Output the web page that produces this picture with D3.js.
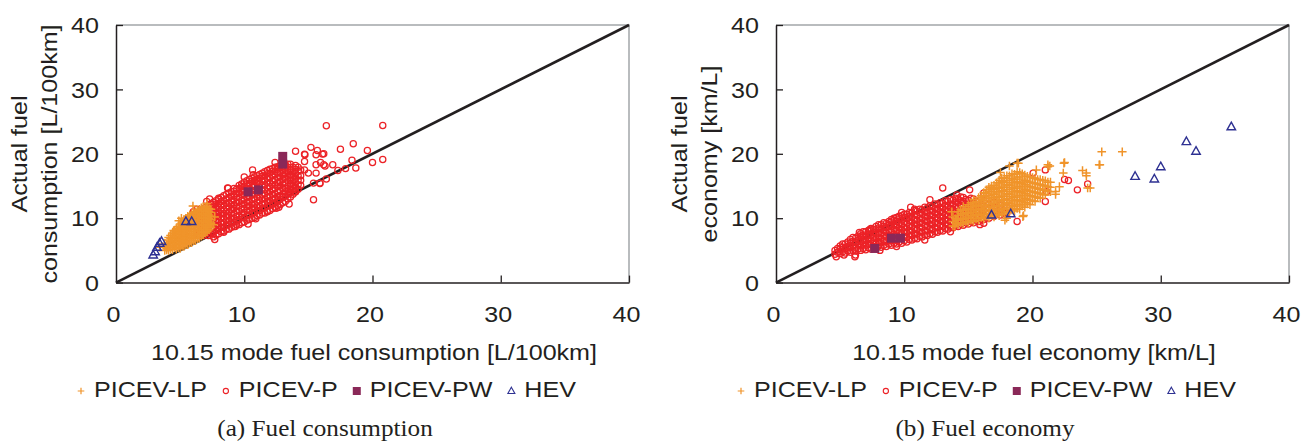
<!DOCTYPE html>
<html>
<head>
<meta charset="utf-8">
<script src="https://d3js.org/d3.v7.min.js"></script>
<style>
body { margin: 0; background: #ffffff; }
svg { display: block; font-family: 'Liberation Sans', Arial, Helvetica, sans-serif; }
</style>
</head>
<body>
<svg width="1301" height="442"></svg>
<script>
// ---- data ----
var xTicks = [0, 10, 20, 30, 40];
var yTicks = [0, 10, 20, 30, 40];
var seriesNames = ["PICEV-LP", "PICEV-P", "PICEV-PW", "HEV"];
var refLine = [[0, 0], [40, 40]];

// dense clouds are stored as columns: [x, y1, y2, ...]
// (a) fuel consumption, L/100km
var consPCore = [
  [6.4, 7.6, 8.2, 9.0, 9.7, 10.3, 10.9],
  [6.8, 7.3, 8.0, 8.6, 9.4, 10.0, 10.8, 11.4],
  [7.2, 7.3, 7.9, 8.7, 9.3, 10.1, 10.7, 11.4, 12.0],
  [7.6, 7.1, 7.8, 8.5, 9.1, 9.9, 10.5, 11.2, 11.9, 12.5],
  [8.0, 7.6, 8.3, 8.9, 9.7, 10.3, 11.0, 11.7, 12.3, 12.9],
  [8.4, 8.0, 8.6, 9.3, 10.0, 10.7, 11.3, 12.0, 12.7, 13.5],
  [8.8, 8.3, 9.1, 9.7, 10.4, 11.0, 11.8, 12.4, 13.2, 13.9],
  [9.2, 8.7, 9.4, 10.0, 10.8, 11.5, 12.1, 12.9, 13.5, 14.2, 14.6],
  [9.6, 9.0, 9.8, 10.4, 11.1, 11.9, 12.5, 13.3, 13.9, 14.6, 15.1],
  [10.0, 9.4, 10.1, 10.9, 11.5, 12.2, 12.9, 13.6, 14.3, 15.0, 15.6],
  [10.4, 9.8, 10.5, 11.2, 11.9, 12.6, 13.3, 14.0, 14.6, 15.4, 16.0],
  [10.8, 10.1, 10.9, 11.6, 12.2, 13.0, 13.7, 14.3, 15.1, 15.8, 16.4],
  [11.2, 10.5, 11.2, 11.9, 12.7, 13.3, 14.1, 14.8, 15.4, 16.2, 16.8],
  [11.6, 10.8, 11.6, 12.3, 13.0, 13.8, 14.4, 15.2, 15.9, 16.6, 17.2],
  [12.0, 11.2, 12.0, 12.7, 13.4, 14.1, 14.9, 15.5, 16.3, 17.0, 17.6],
  [12.4, 11.7, 12.4, 13.1, 13.8, 14.6, 15.2, 16.0, 16.7, 17.3, 17.9],
  [12.8, 12.1, 12.9, 13.5, 14.3, 15.0, 15.7, 16.4, 17.1, 17.8, 18.2],
  [13.2, 12.6, 13.4, 14.1, 14.7, 15.5, 16.2, 16.9, 17.6, 18.3],
  [13.6, 13.3, 14.0, 14.7, 15.4, 16.1, 16.8, 17.5, 18.4],
  [14.0, 14.1, 14.8, 15.5, 16.2, 16.9, 17.6, 18.2],
  [14.4, 15.1, 15.9, 16.6, 17.5]
];
var consPFill = [
  [6.6, 7.9, 8.6, 9.3, 10.0, 10.6, 11.2],
  [7.0, 7.6, 8.3, 9.0, 9.7, 10.4, 11.1, 11.7],
  [7.4, 7.6, 8.3, 9.0, 9.7, 10.4, 11.0, 11.7, 12.2],
  [7.8, 7.4, 8.1, 8.8, 9.5, 10.2, 10.8, 11.5, 12.2, 12.7],
  [8.2, 7.9, 8.6, 9.3, 10.0, 10.7, 11.3, 12.0, 12.6, 13.2],
  [8.6, 8.3, 8.9, 9.6, 10.3, 11.0, 11.6, 12.3, 13.0, 13.7],
  [9.0, 8.6, 9.3, 10.0, 10.7, 11.3, 12.1, 12.7, 13.4, 14.1],
  [9.4, 9.0, 9.7, 10.3, 11.1, 11.8, 12.4, 13.2, 13.8, 14.5],
  [9.8, 9.3, 10.1, 10.7, 11.4, 12.2, 12.8, 13.6, 14.2, 14.9, 15.3],
  [10.2, 9.7, 10.4, 11.2, 11.8, 12.5, 13.2, 13.9, 14.6, 15.3, 15.8],
  [10.6, 10.0, 10.8, 11.5, 12.2, 12.9, 13.6, 14.3, 14.9, 15.7, 16.2],
  [11.0, 10.4, 11.2, 11.9, 12.5, 13.3, 14.0, 14.6, 15.4, 16.1, 16.6],
  [11.4, 10.8, 11.5, 12.2, 13.0, 13.6, 14.4, 15.1, 15.7, 16.5, 17.0],
  [11.8, 11.1, 11.9, 12.6, 13.3, 14.1, 14.7, 15.5, 16.2, 16.9, 17.4],
  [12.2, 11.5, 12.3, 13.0, 13.7, 14.4, 15.2, 15.8, 16.6, 17.3, 17.7],
  [12.6, 12.0, 12.7, 13.4, 14.1, 14.9, 15.5, 16.3, 17.0, 17.6, 18.0],
  [13.0, 12.4, 13.2, 13.8, 14.6, 15.3, 16.0, 16.7, 17.4, 18.0],
  [13.4, 13.0, 13.7, 14.4, 15.0, 15.8, 16.5, 17.2, 17.9, 18.4],
  [13.8, 13.7, 14.4, 15.1, 15.8, 16.5, 17.2, 17.9],
  [14.2, 14.5, 15.2, 15.9, 16.6, 17.3, 17.9]
];
var consPOut = [
  [16.4, 24.35], [20.8, 24.4], [15.2, 21.0], [15.7, 20.5], [16.1, 19.95], [14.0, 20.4],
  [14.7, 19.95], [17.5, 20.7], [18.5, 21.55], [19.6, 20.5], [18.4, 19.0], [20.0, 18.65],
  [20.8, 19.1], [16.9, 18.3], [17.9, 17.7], [18.7, 17.8], [17.3, 17.4], [16.4, 16.1],
  [15.9, 15.4], [15.4, 12.85], [13.5, 12.2], [13.95, 14.1], [15.6, 18.3], [16.2, 18.3],
  [14.7, 18.8], [14.7, 17.5], [12.4, 18.65], [10.65, 17.5], [10.0, 16.4], [8.7, 14.7],
  [7.7, 6.7], [8.4, 7.8], [9.3, 8.7], [10.3, 9.1], [10.9, 9.9], [11.8, 11.0], [12.7, 11.7],
  [7.07, 12.6], [7.3, 13.0], [8.0, 13.1], [15.0, 17.0], [15.6, 17.0], [15.4, 15.45],
  [15.9, 15.45], [16.3, 18.1], [15.95, 18.65], [10.7, 16.75], [10.97, 15.7], [8.75, 14.65],
  [6.03, 11.0], [6.3, 11.4], [12.5, 11.55], [14.0, 14.1], [15.6, 19.85], [16.2, 20.0],
  [14.73, 19.85]
];
var consLpCore = [
  [3.8, 5.0, 5.6, 6.1],
  [4.1, 5.0, 5.5, 6.1, 6.6, 7.0],
  [4.4, 5.1, 5.7, 6.2, 6.8, 7.3, 7.7],
  [4.7, 5.2, 5.7, 6.3, 6.8, 7.4, 7.9, 8.4],
  [5.0, 5.3, 5.9, 6.4, 7.0, 7.5, 8.1, 8.6, 9.1],
  [5.3, 5.6, 6.1, 6.7, 7.2, 7.8, 8.3, 8.9, 9.4, 9.8],
  [5.6, 5.9, 6.5, 7.0, 7.6, 8.1, 8.7, 9.2, 9.8, 10.3],
  [5.9, 6.2, 6.8, 7.3, 7.9, 8.4, 9.0, 9.5, 10.1, 10.7],
  [6.2, 6.5, 7.1, 7.6, 8.2, 8.7, 9.3, 9.8, 10.4, 11.0],
  [6.5, 6.9, 7.5, 8.0, 8.6, 9.1, 9.7, 10.2, 10.8, 11.4],
  [6.8, 7.4, 7.9, 8.5, 9.0, 9.6, 10.1, 10.7, 11.3, 11.8],
  [7.1, 7.9, 8.5, 9.0, 9.6, 10.1, 10.7, 11.2, 11.8],
  [7.4, 8.6, 9.2, 9.8, 10.3, 10.9, 11.4]
];
var consLpFill = [
  [3.95, 5.3, 5.9],
  [4.25, 5.2, 5.8, 6.4, 6.9, 7.3],
  [4.55, 5.4, 6.0, 6.5, 7.1, 7.6, 8.0],
  [4.85, 5.4, 6.0, 6.6, 7.1, 7.7, 8.2, 8.7],
  [5.15, 5.6, 6.2, 6.7, 7.3, 7.8, 8.4, 8.9, 9.4],
  [5.45, 5.9, 6.4, 7.0, 7.5, 8.1, 8.6, 9.2, 9.7, 10.0],
  [5.75, 6.2, 6.8, 7.3, 7.9, 8.4, 9.0, 9.5, 10.1, 10.5],
  [6.05, 6.5, 7.1, 7.6, 8.2, 8.7, 9.3, 9.8, 10.4, 10.9],
  [6.35, 6.8, 7.4, 7.9, 8.5, 9.0, 9.6, 10.1, 10.7, 11.2],
  [6.65, 7.2, 7.8, 8.3, 8.9, 9.4, 10.0, 10.5, 11.1, 11.6],
  [6.95, 7.7, 8.2, 8.8, 9.3, 9.9, 10.4, 11.0, 11.6],
  [7.25, 8.2, 8.8, 9.4, 9.9, 10.5, 11.0, 11.5]
];
var consLpOut = [
  [5.1, 10.0], [4.9, 9.6], [3.4, 5.5], [6.0, 11.9], [7.1, 12.3], [7.6, 9.0], [7.7, 10.2],
  [3.95, 5.07], [4.5, 8.1]
];
var consPw = [[10.3, 14.1], [11.1, 14.4], [13.0, 19.6], [13.0, 18.4]];
var consHev = [[2.9, 4.3], [3.05, 4.8], [3.2, 5.5], [3.4, 6.1], [3.55, 6.4], [5.45, 9.5], [5.9, 9.5]];

// (b) fuel economy, km/L
var econPCore = [
  [4.6, 4.4, 5.0],
  [5.0, 4.5, 5.2, 5.7],
  [5.4, 4.6, 5.3, 6.0],
  [5.8, 4.7, 5.4, 6.1, 6.7],
  [6.2, 4.9, 5.5, 6.2, 6.9],
  [6.6, 5.0, 5.7, 6.4, 7.1, 7.6],
  [7.0, 5.1, 5.8, 6.5, 7.2, 7.9],
  [7.4, 5.2, 5.9, 6.6, 7.3, 8.0, 8.4],
  [7.8, 5.4, 6.1, 6.8, 7.5, 8.2, 8.7],
  [8.2, 5.5, 6.2, 6.9, 7.6, 8.3, 9.0],
  [8.6, 5.6, 6.3, 7.1, 7.8, 8.5, 9.2],
  [9.0, 5.8, 6.5, 7.2, 7.9, 8.7, 9.4, 9.8],
  [9.4, 6.0, 6.7, 7.4, 8.1, 8.8, 9.5, 10.1],
  [9.8, 6.1, 6.9, 7.6, 8.3, 9.0, 9.7, 10.4],
  [10.2, 6.3, 7.0, 7.8, 8.5, 9.2, 9.9, 10.6],
  [10.6, 6.6, 7.3, 8.0, 8.7, 9.4, 10.1, 10.8],
  [11.0, 6.8, 7.5, 8.2, 9.0, 9.7, 10.4, 11.1],
  [11.4, 7.1, 7.8, 8.5, 9.2, 9.9, 10.6, 11.3],
  [11.8, 7.3, 8.0, 8.7, 9.5, 10.2, 10.9, 11.6],
  [12.2, 7.5, 8.2, 9.0, 9.7, 10.4, 11.1, 11.8],
  [12.6, 7.8, 8.5, 9.2, 9.9, 10.6, 11.4, 12.1],
  [13.0, 8.0, 8.7, 9.5, 10.2, 10.9, 11.6, 12.3],
  [13.4, 8.3, 9.0, 9.7, 10.4, 11.1, 11.9, 12.6],
  [13.8, 8.5, 9.2, 10.0, 10.7, 11.4, 12.1, 12.8],
  [14.2, 8.7, 9.5, 10.2, 10.9, 11.6, 12.4, 13.0],
  [14.6, 8.9, 9.7, 10.4, 11.1, 11.9, 12.6, 13.2],
  [15.0, 9.1, 9.9, 10.6, 11.3, 12.1, 12.8],
  [15.4, 9.3, 10.1, 10.8, 11.5, 12.3, 13.0],
  [15.8, 9.5, 10.3, 11.0, 11.7, 12.5],
  [16.2, 9.8, 10.5, 11.2, 12.0, 12.7],
  [16.6, 10.0, 10.8, 11.5, 12.2],
  [17.0, 10.3, 11.0, 11.7, 12.5],
  [17.5, 10.5, 11.3, 12.0],
  [18.0, 10.8, 11.6, 12.4]
];
var econPFill = [
  [4.8, 4.7, 5.3],
  [5.2, 4.8, 5.5, 6.0],
  [5.6, 4.9, 5.6, 6.3],
  [6.0, 5.0, 5.7, 6.4, 7.0],
  [6.4, 5.2, 5.9, 6.6, 7.2],
  [6.8, 5.3, 6.0, 6.7, 7.4, 7.9],
  [7.2, 5.4, 6.1, 6.8, 7.5, 8.1],
  [7.6, 5.6, 6.3, 7.0, 7.7, 8.3],
  [8.0, 5.7, 6.4, 7.1, 7.8, 8.5, 9.0],
  [8.4, 5.8, 6.5, 7.3, 8.0, 8.7, 9.3],
  [8.8, 6.0, 6.7, 7.4, 8.1, 8.9, 9.5],
  [9.2, 6.1, 6.8, 7.6, 8.3, 9.0, 9.7, 10.0],
  [9.6, 6.3, 7.0, 7.8, 8.5, 9.2, 9.9, 10.3],
  [10.0, 6.5, 7.2, 7.9, 8.6, 9.4, 10.1, 10.6],
  [10.4, 6.7, 7.4, 8.1, 8.8, 9.6, 10.3, 10.9],
  [10.8, 6.9, 7.6, 8.4, 9.1, 9.8, 10.5, 11.2],
  [11.2, 7.2, 7.9, 8.6, 9.3, 10.0, 10.8, 11.4],
  [11.6, 7.4, 8.1, 8.9, 9.6, 10.3, 11.0, 11.7],
  [12.0, 7.6, 8.4, 9.1, 9.8, 10.5, 11.2, 11.9],
  [12.4, 7.9, 8.6, 9.3, 10.1, 10.8, 11.5, 12.2],
  [12.8, 8.1, 8.9, 9.6, 10.3, 11.0, 11.7, 12.4],
  [13.2, 8.4, 9.1, 9.8, 10.6, 11.3, 12.0, 12.7],
  [13.6, 8.6, 9.4, 10.1, 10.8, 11.5, 12.2, 12.9],
  [14.0, 8.9, 9.6, 10.3, 11.0, 11.8, 12.5, 13.1],
  [14.4, 9.1, 9.8, 10.6, 11.3, 12.0, 12.7, 13.3],
  [14.8, 9.3, 10.0, 10.8, 11.5, 12.2, 12.9],
  [15.2, 9.5, 10.2, 11.0, 11.7, 12.4, 13.1],
  [15.6, 9.7, 10.4, 11.2, 11.9, 12.6],
  [16.0, 9.9, 10.7, 11.4, 12.1]
];
var econPOut = [
  [13.0, 14.7], [15.1, 14.4], [21.0, 17.5], [22.8, 15.85], [23.5, 14.4], [24.3, 15.3],
  [21.0, 12.6], [6.5, 7.8], [4.7, 4.0], [6.2, 4.3], [10.8, 11.4], [12.0, 12.85],
  [9.8, 10.9], [16.2, 13.9], [14.1, 13.6], [20.05, 17.0], [16.2, 9.2], [18.8, 9.5],
  [6.15, 4.0], [9.4, 5.6], [11.6, 6.6], [13.6, 7.9], [15.9, 9.0], [21.1, 14.1],
  [22.5, 16.0], [10.5, 11.7], [7.3, 8.2], [8.8, 9.0], [5.3, 4.3], [8.1, 5.0]
];
var econLpCore = [
  [13.8, 8.8, 9.5, 10.2],
  [14.2, 9.0, 9.7, 10.4, 11.0],
  [14.6, 9.1, 9.8, 10.5, 11.2, 11.8],
  [15.0, 9.3, 10.0, 10.7, 11.4, 12.1],
  [15.4, 9.5, 10.2, 10.9, 11.6, 12.2, 12.9],
  [15.8, 9.7, 10.4, 11.1, 11.8, 12.5, 13.2],
  [16.2, 9.9, 10.6, 11.3, 12.0, 12.7, 13.4, 14.0],
  [16.6, 10.0, 10.7, 11.4, 12.1, 12.8, 13.5, 14.2, 14.8],
  [17.0, 10.2, 10.9, 11.6, 12.3, 13.0, 13.7, 14.4, 15.1],
  [17.4, 10.4, 11.1, 11.8, 12.5, 13.2, 13.9, 14.6, 15.3, 15.9],
  [17.8, 10.6, 11.3, 12.0, 12.7, 13.4, 14.1, 14.8, 15.5, 16.3],
  [18.2, 10.9, 11.6, 12.3, 13.0, 13.7, 14.4, 15.1, 15.8, 16.6],
  [18.6, 11.1, 11.8, 12.5, 13.2, 13.9, 14.6, 15.3, 16.0, 16.8],
  [19.0, 11.4, 12.1, 12.8, 13.5, 14.2, 14.9, 15.6, 16.4, 17.1],
  [19.4, 11.7, 12.4, 13.1, 13.8, 14.5, 15.2, 15.9, 16.7],
  [19.8, 12.1, 12.8, 13.5, 14.2, 14.9, 15.6, 16.4],
  [20.2, 12.6, 13.3, 14.0, 14.7, 15.4, 16.2],
  [20.6, 13.1, 13.8, 14.5, 15.2, 16.0],
  [21.0, 13.6, 14.3, 15.0, 15.8],
  [21.4, 14.1, 14.8, 15.6]
];
var econLpFill = [
  [14.0, 9.2, 9.9],
  [14.4, 9.3, 10.0, 10.7, 11.3],
  [14.8, 9.5, 10.2, 10.9, 11.5],
  [15.2, 9.7, 10.4, 11.1, 11.8, 12.4],
  [15.6, 9.9, 10.6, 11.3, 12.0, 12.6],
  [16.0, 10.1, 10.8, 11.5, 12.2, 12.9, 13.5],
  [16.4, 10.3, 11.0, 11.7, 12.4, 13.1, 13.8, 14.4],
  [16.8, 10.4, 11.1, 11.8, 12.5, 13.2, 13.9, 14.6, 15.0],
  [17.2, 10.6, 11.3, 12.0, 12.7, 13.4, 14.1, 14.8, 15.5],
  [17.6, 10.8, 11.5, 12.2, 12.9, 13.6, 14.3, 15.0, 15.7, 16.2],
  [18.0, 11.0, 11.7, 12.4, 13.1, 13.8, 14.5, 15.2, 15.9, 16.6],
  [18.4, 11.3, 12.0, 12.7, 13.4, 14.1, 14.8, 15.5, 16.2, 16.9],
  [18.8, 11.5, 12.2, 12.9, 13.6, 14.3, 15.0, 15.7, 16.4, 17.2],
  [19.2, 11.9, 12.6, 13.3, 14.0, 14.7, 15.4, 16.1, 16.9],
  [19.6, 12.2, 12.9, 13.6, 14.3, 15.0, 15.7, 16.5],
  [20.0, 12.7, 13.4, 14.1, 14.8, 15.5, 16.3],
  [20.4, 13.2, 13.9, 14.6, 15.3, 16.0],
  [20.8, 13.7, 14.4, 15.1, 15.9],
  [21.2, 14.2, 14.9, 15.6]
];
var econLpOut = [
  [22.5, 18.65], [25.25, 18.3], [24.2, 17.0], [24.3, 14.7], [21.8, 14.15], [19.25, 10.25],
  [17.85, 9.7], [18.2, 18.1], [21.2, 18.0], [18.9, 18.55], [22.45, 18.55], [21.35, 18.1],
  [17.98, 10.0], [13.95, 8.7], [25.4, 20.3], [27.0, 20.3], [25.2, 18.3], [23.9, 17.4],
  [24.5, 14.7], [24.2, 16.6], [13.7, 11.0], [14.1, 9.7], [19.3, 10.4], [22.4, 17.0],
  [21.8, 13.7], [22.1, 14.9], [20.3, 17.5], [21.2, 18.3], [18.8, 18.55], [17.5, 17.1]
];
var econPw = [[7.7, 5.3], [9.0, 6.9], [9.7, 6.9]];
var econHev = [[16.8, 10.5], [18.3, 10.7], [28.0, 16.5], [29.5, 16.1], [30.0, 18.0], [32.0, 21.9], [32.75, 20.4], [35.5, 24.2]];

// ---- drawing ----
var svg = d3.select("svg");
var INK = "#231f20";
var SX = 1.14; // the original lettering is set slightly wide
var colors = { lp: "#f0942a", p: "#ec2227", pw: "#8a2858", hev: "#2e3192" };

function cols(rows) {
  var out = [];
  rows.forEach(function (r) {
    for (var i = 1; i < r.length; i++) out.push([r[0], r[i]]);
  });
  return out;
}

function plusPath(s) { return "M" + (-s) + ",0H" + s + "M0," + (-s) + "V" + s; }
function triPath(w) { var h = w * 0.9; return "M0," + (-h * 0.6) + "L" + (w / 2) + "," + (h * 0.4) + "L" + (-w / 2) + "," + (h * 0.4) + "Z"; }

function drawPanel(x0, p) {
  var g = svg.append("g");
  var x = d3.scaleLinear().domain([0, 40]).range([x0, x0 + 513]);
  var y = d3.scaleLinear().domain([0, 40]).range([282.6, 25]);

  // grey frame on top and right
  g.append("path")
    .attr("d", "M" + x(0) + "," + y(40) + "H" + x(40) + "V" + y(0))
    .attr("fill", "none").attr("stroke", "#a3a6a9").attr("stroke-width", 1.5);

  // y = x reference line
  g.append("path")
    .datum(refLine)
    .attr("d", d3.line().x(function (d) { return x(d[0]); }).y(function (d) { return y(d[1]); }))
    .attr("stroke", INK).attr("stroke-width", 2.6).attr("fill", "none");

  // PICEV-P circles
  g.append("g").selectAll("circle")
    .data(cols(p.pCore).concat(cols(p.pFill), p.pOut))
    .join("circle")
    .attr("cx", function (d) { return x(d[0]); })
    .attr("cy", function (d) { return y(d[1]); })
    .attr("r", 3.1)
    .attr("fill", "none").attr("stroke", colors.p).attr("stroke-width", 1.25);

  // PICEV-LP crosses
  g.append("g").selectAll("path")
    .data(cols(p.lpCore).concat(cols(p.lpFill), p.lpOut))
    .join("path")
    .attr("transform", function (d) { return "translate(" + x(d[0]) + "," + y(d[1]) + ")"; })
    .attr("d", plusPath(4.3))
    .attr("stroke", colors.lp).attr("stroke-width", 1.5);

  // PICEV-PW squares
  g.append("g").selectAll("rect")
    .data(p.pw)
    .join("rect")
    .attr("x", function (d) { return x(d[0]) - 4.5; })
    .attr("y", function (d) { return y(d[1]) - 4.5; })
    .attr("width", 9).attr("height", 9)
    .attr("fill", colors.pw);

  // HEV triangles
  g.append("g").selectAll("path")
    .data(p.hev)
    .join("path")
    .attr("transform", function (d) { return "translate(" + x(d[0]) + "," + y(d[1]) + ")"; })
    .attr("d", triPath(8.5))
    .attr("fill", "none").attr("stroke", colors.hev).attr("stroke-width", 1.4);

  // axes
  var xAxis = g.append("g")
    .attr("transform", "translate(0," + y(0) + ")")
    .call(d3.axisBottom(x).tickValues(xTicks).tickSizeInner(-7).tickSizeOuter(0));
  var yAxis = g.append("g")
    .attr("transform", "translate(" + x(0) + ",0)")
    .call(d3.axisLeft(y).tickValues(yTicks).tickSizeInner(-7).tickSizeOuter(0));

  [xAxis, yAxis].forEach(function (a) {
    a.select(".domain").attr("stroke", INK).attr("stroke-width", 1.5);
    a.selectAll(".tick line").attr("stroke", INK).attr("stroke-width", 1.3);
    a.selectAll("text").attr("fill", INK).attr("font-size", 22)
      .attr("font-family", "'Liberation Sans', Arial, sans-serif");
  });
  xAxis.selectAll(".tick text")
    .attr("y", 0).attr("dy", 0)
    .attr("transform", "translate(-3,39.5) scale(" + SX + ",1)");
  yAxis.selectAll(".tick text")
    .attr("x", 0).attr("dy", "0.35em")
    .attr("transform", "translate(-17,0) scale(" + SX + ",1)");
  xAxis.selectAll(".tick").filter(function (d) { return d === 0; }).select("line").remove();

  // axis titles
  g.append("text")
    .attr("transform", "translate(" + (x0 + 258) + ",360) scale(" + SX + ",1)")
    .attr("text-anchor", "middle").attr("font-size", 22).attr("fill", INK)
    .text(p.xTitle);
  p.yTitle.forEach(function (line, i) {
    g.append("text")
      .attr("transform", "translate(" + (x0 - 89 + i * 30) + ",154) rotate(-90) scale(" + SX + ",1)")
      .attr("text-anchor", "middle").attr("font-size", 22).attr("fill", INK)
      .text(line);
  });

  // legend
  var leg = g.append("g");
  var cx = x0 - 35, ly = 391;
  seriesNames.forEach(function (name, i) {
    if (i === 0) {
      leg.append("path").attr("transform", "translate(" + cx + "," + ly + ")")
        .attr("d", plusPath(3.3)).attr("stroke", colors.lp).attr("stroke-width", 1.2);
    } else if (i === 1) {
      leg.append("circle").attr("cx", cx).attr("cy", ly).attr("r", 2.6)
        .attr("fill", "none").attr("stroke", colors.p).attr("stroke-width", 1.1);
    } else if (i === 2) {
      leg.append("rect").attr("x", cx - 4).attr("y", ly - 4).attr("width", 8).attr("height", 8)
        .attr("fill", colors.pw);
    } else {
      leg.append("path").attr("transform", "translate(" + cx + "," + ly + ")")
        .attr("d", triPath(7)).attr("fill", "none").attr("stroke", colors.hev).attr("stroke-width", 1.1);
    }
    var t = leg.append("text")
      .attr("transform", "translate(" + (cx + 13) + ",397) scale(" + SX + ",1)")
      .attr("font-size", 22).attr("fill", INK)
      .text(name);
    cx = cx + 13 + t.node().getComputedTextLength() * SX + 19;
  });

  // caption
  g.append("text")
    .attr("transform", "translate(" + (x0 + 209) + ",436) scale(1.05,1)")
    .attr("text-anchor", "middle")
    .attr("font-family", "'Liberation Serif', 'Times New Roman', serif")
    .attr("font-size", 24).attr("fill", INK)
    .text(p.caption);
}

drawPanel(116, {
  pCore: consPCore, pFill: consPFill, pOut: consPOut,
  lpCore: consLpCore, lpFill: consLpFill, lpOut: consLpOut,
  pw: consPw, hev: consHev,
  xTitle: "10.15 mode fuel consumption [L/100km]",
  yTitle: ["Actual fuel", "consumption [L/100km]"],
  caption: "(a) Fuel consumption"
});
drawPanel(776, {
  pCore: econPCore, pFill: econPFill, pOut: econPOut,
  lpCore: econLpCore, lpFill: econLpFill, lpOut: econLpOut,
  pw: econPw, hev: econHev,
  xTitle: "10.15 mode fuel economy [km/L]",
  yTitle: ["Actual fuel", "economy [km/L]"],
  caption: "(b) Fuel economy"
});
</script>
</body>
</html>
